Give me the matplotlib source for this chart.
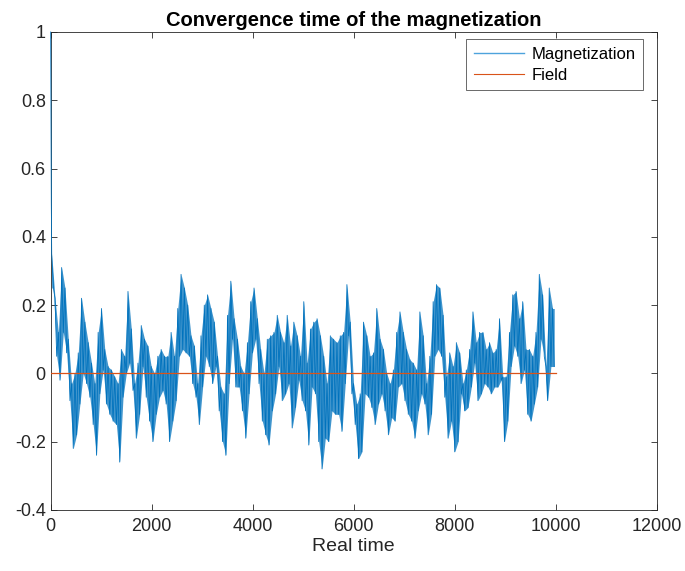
import numpy as np
import matplotlib
matplotlib.use("Agg")
import matplotlib.pyplot as plt
from matplotlib.ticker import FuncFormatter

plt.rcParams['font.family'] = ['Liberation Sans', 'DejaVu Sans']

# start of the run: magnetization relaxes from 1 within the first steps
start_time = [0, 5, 12]
start_mag = [1.0, 0.75, 0.5]

# upper / lower edge of the noisy band (~66 steps apart)
mag_top = [
    0.35, 0.22, 0.12, 0.31, 0.25, 0.10, -0.03, 0.0, 0.06, 0.22, 0.15, 0.09, 0.03,
    -0.03, 0.12, 0.19, 0.07, 0.02, 0.01, -0.01, -0.03, 0.07, 0.05, 0.24, 0.13, -0.03,
    0.03, 0.14, 0.10, 0.08, 0.02, 0.0, 0.05, 0.07, 0.05, 0.05, 0.12, 0.05, 0.19,
    0.29, 0.25, 0.20, 0.11, 0.08, -0.03, 0.11, 0.20, 0.23, 0.19, 0.15, 0.05, -0.04,
    -0.06, 0.17, 0.27, 0.16, 0.10, 0.02, 0.0, 0.09, 0.21, 0.25, 0.16, 0.07, 0.0,
    0.10, 0.11, 0.12, 0.17, 0.12, 0.09, 0.17, 0.08, 0.15, 0.11, 0.05, 0.21, 0.03,
    0.13, 0.15, 0.16, 0.11, 0.05, -0.03, 0.11, 0.10, 0.09, 0.11, 0.12, 0.26, 0.15,
    -0.03, -0.09, -0.06, 0.15, 0.11, 0.05, 0.06, 0.19, 0.10, 0.07, 0.0, -0.03, 0.01,
    0.12, 0.18, 0.12, 0.07, 0.04, 0.03, 0.01, 0.18, 0.11, -0.03, 0.05, 0.21, 0.26,
    0.25, 0.17, -0.01, 0.06, 0.02, 0.09, 0.06, -0.03, 0.01, 0.07, 0.18, 0.09, 0.12,
    0.12, 0.07, 0.09, 0.06, 0.07, 0.16, -0.01, -0.01, 0.12, 0.23, 0.24, 0.16, 0.21,
    0.07, 0.07, 0.05, 0.12, 0.29, 0.23, 0.02, 0.25, 0.19,
]
mag_bottom = [
    0.25, 0.05, -0.02, 0.12, 0.06, -0.08, -0.22, -0.18, -0.09, 0.0, -0.03, -0.07, -0.15,
    -0.24, -0.06, 0.01, -0.09, -0.12, -0.14, -0.15, -0.26, -0.07, 0.0, 0.03, -0.05, -0.19,
    -0.12, 0.02, -0.07, -0.14, -0.20, -0.12, -0.07, -0.05, -0.09, -0.20, -0.14, -0.08, 0.05,
    0.07, 0.06, 0.05, -0.03, -0.07, -0.15, -0.04, 0.05, 0.02, -0.03, 0.02, -0.11, -0.20,
    -0.24, -0.03, 0.10, -0.04, -0.04, -0.11, -0.19, -0.06, 0.06, 0.10, -0.03, -0.14, -0.18,
    -0.21, -0.11, -0.06, 0.02, -0.08, -0.06, -0.03, -0.16, -0.10, -0.02, -0.08, -0.11, -0.21,
    -0.04, -0.06, -0.20, -0.28, -0.19, -0.20, -0.11, -0.12, -0.12, -0.17, -0.03, 0.11, -0.06,
    -0.15, -0.25, -0.23, -0.06, -0.07, -0.10, -0.15, -0.09, -0.06, -0.11, -0.18, -0.13, -0.14,
    -0.04, -0.03, -0.08, -0.12, -0.14, -0.19, -0.11, -0.06, -0.09, -0.18, -0.12, 0.05, 0.07,
    0.05, -0.07, -0.19, -0.14, -0.23, -0.20, -0.06, -0.11, -0.10, -0.04, 0.03, -0.08, -0.06,
    -0.03, -0.04, -0.06, -0.04, -0.04, -0.02, -0.20, -0.14, 0.02, 0.08, 0.05, -0.03, 0.01,
    -0.12, -0.14, -0.09, -0.04, 0.10, 0.05, -0.08, 0.02, 0.02,
]
field_time = [0, 10000]
field_val = [0, 0]

# interleave top and bottom so the line fills the band like the dense original
n = len(mag_top)
step = (10000 - 20) / n
t_top = 20 + step * np.arange(n)
t_bot = 20 + step * (np.arange(n) + 0.5)
t_band = np.empty(2 * n)
m_band = np.empty(2 * n)
t_band[0::2] = t_top
t_band[1::2] = t_bot
m_band[0::2] = mag_top
m_band[1::2] = mag_bottom
time = np.concatenate([start_time, t_band])
mag = np.concatenate([start_mag, m_band])

fig = plt.figure(figsize=(6.85, 5.71), dpi=100)
ax = fig.add_axes([0.074, 0.107, 0.885, 0.837])

# shade between the two edges so the band reads as solid
ax.fill_between(t_band, np.interp(t_band, t_bot, mag_bottom),
                np.interp(t_band, t_top, mag_top),
                color='#0072BD', alpha=0.75, linewidth=0, zorder=2.6)
ax.plot(time, mag, color='#0072BD', linewidth=0.6, label='Magnetization',
        zorder=2.7, clip_on=False)
ax.plot(field_time, field_val, color='#D95319', linewidth=0.9, label='Field',
        zorder=2.8)

ax.set_xlim(0, 12000)
ax.set_ylim(-0.4, 1)
ax.set_xticks(np.arange(0, 12001, 2000))
ax.set_yticks(np.arange(-0.4, 1.01, 0.2))
ax.yaxis.set_major_formatter(FuncFormatter(lambda v, p: '%g' % round(v, 1) if abs(v) > 1e-9 else '0'))

gray = '#262626'
for s in ax.spines.values():
    s.set_color(gray)
    s.set_linewidth(0.6)
ax.tick_params(direction='in', length=4, width=0.6, colors=gray, labelsize=13,
               top=True, right=True, labelcolor=gray)
ax.tick_params(axis='x', pad=6)

ax.set_xlabel('Real time', fontsize=14, color=gray, labelpad=2)
ax.set_title('Convergence time of the magnetization', fontsize=14.5,
             fontweight='bold', color='black', pad=4)

leg = ax.legend(loc='upper right', bbox_to_anchor=(0.985, 0.995), fontsize=12,
                frameon=True, fancybox=False, edgecolor=gray, handlelength=3.0,
                borderaxespad=0.3, handletextpad=0.45, labelspacing=0.35,
                borderpad=0.45)
leg.get_frame().set_linewidth(0.6)
leg.set_zorder(5)
leg.get_lines()[0].set_color('#4DA3DC')
leg.get_lines()[0].set_linewidth(1.0)
leg.get_lines()[1].set_linewidth(0.8)

fig.savefig('out.png', dpi=100)
